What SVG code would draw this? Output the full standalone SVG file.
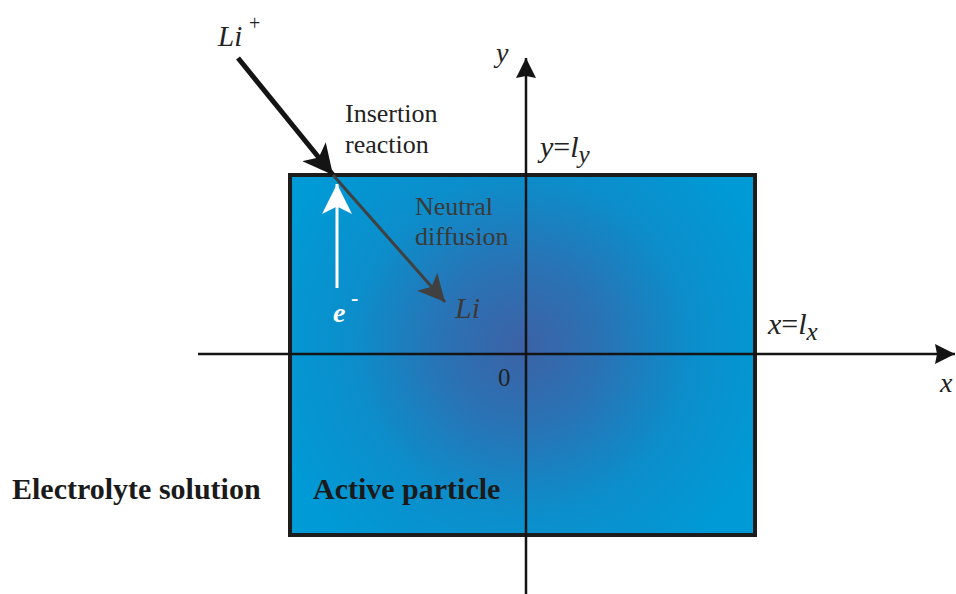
<svg xmlns="http://www.w3.org/2000/svg" width="956" height="594" viewBox="0 0 956 594">
<defs>
<radialGradient id="glow" cx="522" cy="345" r="260" gradientUnits="userSpaceOnUse">
<stop offset="0" stop-color="#3c62a6"/>
<stop offset="0.3" stop-color="#2a72b4"/>
<stop offset="0.65" stop-color="#0c8ecb"/>
<stop offset="1" stop-color="#009ad6"/>
</radialGradient>
<marker id="hBlack" viewBox="0 0 10 10" refX="10" refY="5" markerWidth="6" markerHeight="6" orient="auto" markerUnits="strokeWidth"><path d="M0,0 L10,5 L0,10 L2.5,5 Z" fill="#141414"/></marker>
<marker id="hGray" viewBox="0 0 10 10" refX="10" refY="5" markerWidth="9" markerHeight="9" orient="auto" markerUnits="strokeWidth"><path d="M0,0 L10,5 L0,10 L2.5,5 Z" fill="#404040"/></marker>
<marker id="hWhite" viewBox="0 0 10 10" refX="10" refY="5" markerWidth="10" markerHeight="10" orient="auto" markerUnits="strokeWidth"><path d="M0,0 L10,5 L0,10 L2.5,5 Z" fill="#ffffff"/></marker>
<marker id="hAxis" viewBox="0 0 10 10" refX="10" refY="5" markerWidth="8" markerHeight="8" orient="auto" markerUnits="strokeWidth"><path d="M0,0 L10,5 L0,10 L1,5 Z" fill="#141414"/></marker>
</defs>
<style>
.serif{font-family:"Liberation Serif","Times New Roman",serif;}
.it{font-style:italic;}
.lbl{font-size:26px;fill:#222;}
.gray{font-size:26px;fill:#3a3a3a;}
.bold{font-weight:bold;font-size:30px;fill:#1a1a1a;}
</style>
<rect width="956" height="594" fill="#ffffff"/>
<g id="particle">
<rect x="290" y="175" width="465" height="360" fill="url(#glow)" stroke="#1c1c1c" stroke-width="4"/>
</g>
<g id="connectors">
<line x1="198" y1="354" x2="955" y2="354" stroke="#141414" stroke-width="2.5" marker-end="url(#hAxis)"/>
<line x1="526" y1="594" x2="526" y2="58" stroke="#141414" stroke-width="2.5" marker-end="url(#hAxis)"/>
<line x1="238" y1="58" x2="333" y2="175" stroke="#141414" stroke-width="5" marker-end="url(#hBlack)"/>
<line x1="333" y1="175" x2="445" y2="302" stroke="#404040" stroke-width="3" marker-end="url(#hGray)"/>
<line x1="337" y1="288" x2="337" y2="184" stroke="#ffffff" stroke-width="3" marker-end="url(#hWhite)"/>
</g>
<g id="labels" class="serif">
<text x="218" y="46" class="it" font-size="29" fill="#222">Li</text>
<text x="249" y="30" font-size="20" fill="#222">+</text>
<text x="345" y="122" class="lbl">Insertion</text>
<text x="345" y="153" class="lbl">reaction</text>
<text x="415" y="215" class="gray">Neutral</text>
<text x="415" y="245" class="gray">diffusion</text>
<text x="333" y="322" class="it" font-weight="bold" font-size="28" fill="#ffffff">e</text>
<text x="351" y="305" font-weight="bold" font-size="22" fill="#ffffff">-</text>
<text x="455" y="318" class="it" font-size="30" fill="#3a3a3a">Li</text>
<text x="496" y="62" class="it" font-size="28" fill="#222">y</text>
<text x="540" y="157" class="it" font-size="30" fill="#222">y<tspan font-style="normal">=</tspan>l<tspan font-size="25" dy="6">y</tspan></text>
<text x="768" y="334" class="it" font-size="30" fill="#222">x<tspan font-style="normal">=</tspan>l<tspan font-size="25" dy="6">x</tspan></text>
<text x="940" y="392" class="it" font-size="28" fill="#222">x</text>
<text x="498" y="386" font-size="25" fill="#222">0</text>
<text x="12" y="499" class="bold">Electrolyte solution</text>
<text x="313" y="499" class="bold">Active particle</text>
</g>
</svg>
